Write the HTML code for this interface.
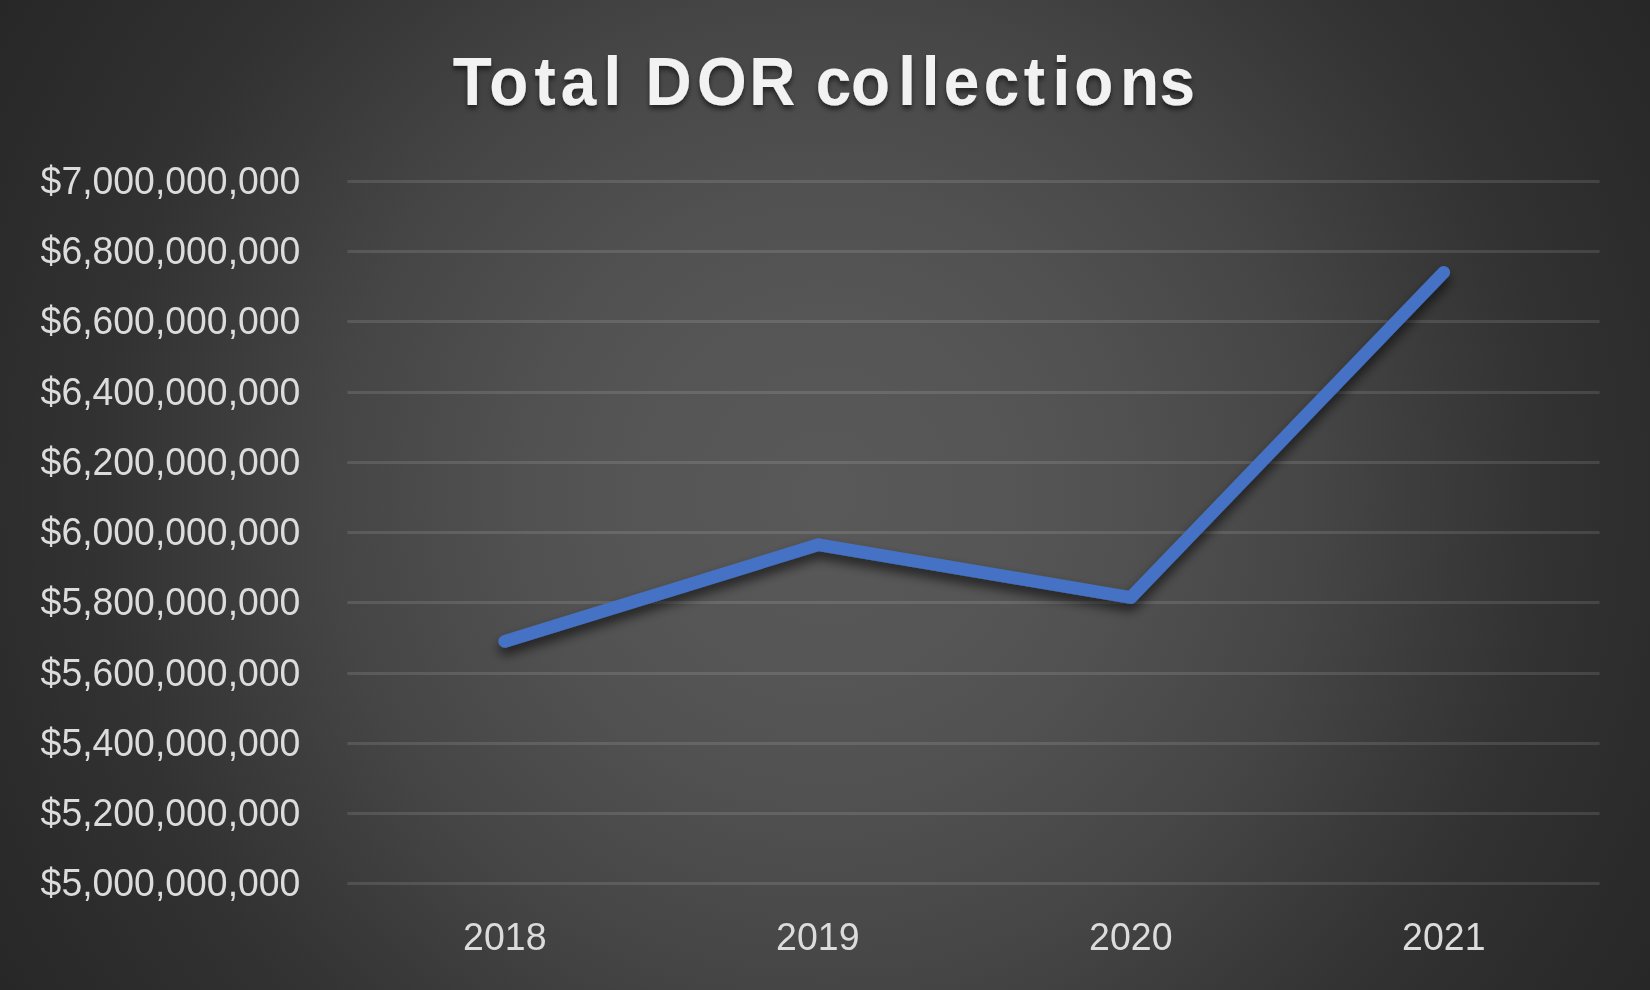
<!DOCTYPE html>
<html><head><meta charset="utf-8"><title>Total DOR collections</title>
<style>
html,body{margin:0;padding:0;background:#262626;}
body{width:1650px;height:990px;overflow:hidden;font-family:"Liberation Sans",sans-serif;}
svg{display:block;}
text{font-family:"Liberation Sans",sans-serif;}
</style></head><body>
<svg width="1650" height="990" viewBox="0 0 1650 990">
<defs>
<radialGradient id="bg" gradientUnits="userSpaceOnUse" cx="825" cy="495" r="962.1"><stop offset="0.00%" stop-color="rgb(89,89,89)"/><stop offset="20.79%" stop-color="rgb(85,85,85)"/><stop offset="31.18%" stop-color="rgb(81,81,81)"/><stop offset="43.13%" stop-color="rgb(74,74,74)"/><stop offset="51.45%" stop-color="rgb(69,69,69)"/><stop offset="64.96%" stop-color="rgb(58,58,58)"/><stop offset="75.36%" stop-color="rgb(50,50,50)"/><stop offset="85.75%" stop-color="rgb(45,45,45)"/><stop offset="99.99%" stop-color="rgb(39,39,39)"/></radialGradient>
<filter id="lsh" x="-5%" y="-10%" width="110%" height="125%"><feGaussianBlur in="SourceAlpha" stdDeviation="6"/><feOffset dx="0" dy="7" result="b"/><feComponentTransfer><feFuncA type="linear" slope="0.63"/></feComponentTransfer><feMerge><feMergeNode/><feMergeNode in="SourceGraphic"/></feMerge></filter>
<filter id="tsh" x="-5%" y="-30%" width="110%" height="170%"><feGaussianBlur in="SourceAlpha" stdDeviation="2.8"/><feOffset dx="0" dy="3.5" result="b"/><feComponentTransfer><feFuncA type="linear" slope="0.52"/></feComponentTransfer><feMerge><feMergeNode/><feMergeNode in="SourceGraphic"/></feMerge></filter>
</defs>
<rect width="1650" height="990" fill="url(#bg)"/>
<g fill="#ffffff" fill-opacity="0.115"><rect x="347.4" y="180" width="1252.2" height="3"/><rect x="347.4" y="250" width="1252.2" height="3"/><rect x="347.4" y="320" width="1252.2" height="3"/><rect x="347.4" y="391" width="1252.2" height="3"/><rect x="347.4" y="461" width="1252.2" height="3"/><rect x="347.4" y="531" width="1252.2" height="3"/><rect x="347.4" y="601" width="1252.2" height="3"/><rect x="347.4" y="672" width="1252.2" height="3"/><rect x="347.4" y="742" width="1252.2" height="3"/><rect x="347.4" y="812" width="1252.2" height="3"/><rect x="347.4" y="882" width="1252.2" height="3"/></g>
<g fill="#dcdcdc" font-size="38.0" opacity="0.999"><text x="40.6" y="193.6" textLength="259.8" lengthAdjust="spacingAndGlyphs">$7,000,000,000</text><text x="40.6" y="263.6" textLength="259.8" lengthAdjust="spacingAndGlyphs">$6,800,000,000</text><text x="40.6" y="333.6" textLength="259.8" lengthAdjust="spacingAndGlyphs">$6,600,000,000</text><text x="40.6" y="404.6" textLength="259.8" lengthAdjust="spacingAndGlyphs">$6,400,000,000</text><text x="40.6" y="474.6" textLength="259.8" lengthAdjust="spacingAndGlyphs">$6,200,000,000</text><text x="40.6" y="544.6" textLength="259.8" lengthAdjust="spacingAndGlyphs">$6,000,000,000</text><text x="40.6" y="614.6" textLength="259.8" lengthAdjust="spacingAndGlyphs">$5,800,000,000</text><text x="40.6" y="685.6" textLength="259.8" lengthAdjust="spacingAndGlyphs">$5,600,000,000</text><text x="40.6" y="755.6" textLength="259.8" lengthAdjust="spacingAndGlyphs">$5,400,000,000</text><text x="40.6" y="825.6" textLength="259.8" lengthAdjust="spacingAndGlyphs">$5,200,000,000</text><text x="40.6" y="895.6" textLength="259.8" lengthAdjust="spacingAndGlyphs">$5,000,000,000</text></g>
<g fill="#dcdcdc" font-size="38.0" opacity="0.999"><text x="463.1" y="949.6" textLength="83.4" lengthAdjust="spacingAndGlyphs">2018</text><text x="776.1" y="949.6" textLength="83.4" lengthAdjust="spacingAndGlyphs">2019</text><text x="1089.1" y="949.6" textLength="83.4" lengthAdjust="spacingAndGlyphs">2020</text><text x="1402.1" y="949.6" textLength="83.4" lengthAdjust="spacingAndGlyphs">2021</text></g>
<path d="M504.8 641.3 L818.5 544.7 L1130.8 597.5 L1443.7 272.4" fill="none" stroke="#4472C4" stroke-width="12.8" stroke-linecap="round" stroke-linejoin="round" filter="url(#lsh)"/>
<g font-size="68" font-weight="bold" fill="#f2f2f2" filter="url(#tsh)" transform="scale(0.94,1)"><text y="105" x="481.7 520.4 568.6 596.6 641.9">Total</text><text y="105" x="686.6 741.6 797.0">DOR</text><text y="105" x="867.9 905.3 955.6 980.7 1004.0 1046.6 1089.1 1119.8 1142.8 1191.6 1233.6">collections</text></g>
</svg>
</body></html>
